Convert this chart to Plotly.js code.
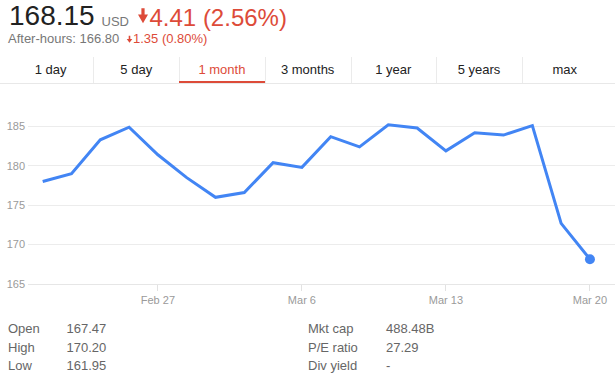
<!DOCTYPE html>
<html>
<head>
<meta charset="utf-8">
<script src="https://cdn.plot.ly/plotly-3.0.1.min.js"></script>
<style>
  html, body { margin: 0; padding: 0; background: #fff; }
  body { width: 615px; height: 380px; position: relative; overflow: hidden;
         font-family: "Liberation Sans", Arial, sans-serif; }
  #chart { position: absolute; left: 0; top: 0; width: 615px; height: 380px; }
  .t { position: absolute; white-space: nowrap; line-height: 1; }
  .tab { position: absolute; text-align: center; font-size: 13px; line-height: 1; color: #222; }
  .sep { position: absolute; width: 1px; background: #ebebeb; }
</style>
</head>
<body>
<div id="chart"></div>
<div id="overlay"></div>
<script>
// ---- data ----
const dates = ['Feb 21','Feb 22','Feb 23','Feb 24','Feb 27','Feb 28','Mar 1','Mar 2','Mar 3',
               'Mar 6','Mar 7','Mar 8','Mar 9','Mar 10','Mar 13','Mar 14','Mar 15','Mar 16','Mar 17','Mar 20'];
const prices = [178.0, 179.0, 183.3, 184.9, 181.4, 178.5, 176.0, 176.6, 180.4,
                179.8, 183.7, 182.4, 185.2, 184.8, 181.9, 184.2, 183.9, 185.1, 172.7, 168.15];
const xTickLabels = ['Feb 27','Mar 6','Mar 13','Mar 20'];
const yTickValues = [165, 170, 175, 180, 185];

const headerPrice = '168.15';
const headerCurrency = 'USD';
const headerChange = '4.41 (2.56%)';
const afterHoursText = 'After-hours: 166.80';
const afterHoursChange = '1.35 (0.80%)';

const tabs = ['1 day','5 day','1 month','3 months','1 year','5 years','max'];
const selectedTab = '1 month';

const statLabelsLeft = ['Open','High','Low'];
const statValuesLeft = ['167.47','170.20','161.95'];
const statLabelsRight = ['Mkt cap','P/E ratio','Div yield'];
const statValuesRight = ['488.48B','27.29','-'];

// ---- chart ----
const lineColor = '#4285f4';
const traces = [
  { x: dates, y: prices, type: 'scatter', mode: 'lines',
    line: { color: lineColor, width: 3 }, hoverinfo: 'skip' },
  { x: [dates[dates.length - 1]], y: [prices[prices.length - 1]], type: 'scatter', mode: 'markers',
    marker: { color: lineColor, size: 10 }, hoverinfo: 'skip' }
];
const layout = {
  width: 615, height: 380,
  margin: { l: 28, r: 0, t: 87, b: 96 },
  paper_bgcolor: 'rgba(0,0,0,0)', plot_bgcolor: 'rgba(0,0,0,0)',
  showlegend: false, hovermode: false,
  font: { family: '"Liberation Sans", Arial, sans-serif', size: 11, color: '#9a9a9a' },
  xaxis: {
    type: 'category', categoryorder: 'array', categoryarray: dates,
    range: [-0.51, 19.87], fixedrange: true,
    tickmode: 'array', tickvals: xTickLabels, ticktext: xTickLabels,
    ticks: 'outside', ticklen: 6, tickwidth: 1, tickcolor: '#e2e2e2',
    showgrid: false, zeroline: false,
    showline: true, linecolor: '#e6e6e6', linewidth: 1,
    tickfont: { size: 11, color: '#9a9a9a' }
  },
  yaxis: {
    range: [165, 190], fixedrange: true,
    tickmode: 'array', tickvals: yTickValues,
    ticks: '', ticklabelstandoff: 2,
    showgrid: true, gridcolor: '#ececec', gridwidth: 1,
    zeroline: false, showline: false,
    tickfont: { size: 11, color: '#9a9a9a' }
  }
};
Plotly.newPlot('chart', traces, layout, { displayModeBar: false, staticPlot: true });

// ---- header / tabs / stats (HTML text) ----
const ov = document.getElementById('overlay');
function addText(txt, left, top, size, color, extra) {
  const d = document.createElement('div');
  d.className = 't';
  d.textContent = txt;
  d.style.left = left + 'px';
  d.style.top = top + 'px';
  d.style.fontSize = size + 'px';
  d.style.color = color;
  if (extra) Object.assign(d.style, extra);
  ov.appendChild(d);
  return d;
}
const red = '#dd4b39';
addText(headerPrice, 9, 2.3, 28, '#222');
addText(headerCurrency, 101.5, 15, 13, '#777');
addText(headerChange, 149.5, 5.7, 24, red);
addText(afterHoursText, 8, 32.3, 13, '#777');
addText(afterHoursChange, 133, 32.3, 13, red);

// arrows
const svgNS = 'http://www.w3.org/2000/svg';
const svg = document.createElementNS(svgNS, 'svg');
svg.setAttribute('width', 615); svg.setAttribute('height', 50);
svg.style.position = 'absolute'; svg.style.left = '0px'; svg.style.top = '0px';
[['M141.4 8.3H144.6V14.6H148L143 23.3L138 14.6H141.4Z'],
 ['M128.7 35.7H130.3V39H132.3L129.5 42.8L126.7 39H128.7Z']].forEach(p => {
  const path = document.createElementNS(svgNS, 'path');
  path.setAttribute('d', p[0]); path.setAttribute('fill', red);
  svg.appendChild(path);
});
ov.appendChild(svg);

// tabs
const tabLeft = 7.7, tabW = 85.7;
tabs.forEach((name, i) => {
  const d = document.createElement('div');
  d.className = 'tab';
  d.textContent = name;
  d.style.left = (tabLeft + i * tabW) + 'px';
  d.style.width = tabW + 'px';
  d.style.top = '62.5px';
  if (name === selectedTab) d.style.color = red;
  ov.appendChild(d);
  if (i > 0) {
    const s = document.createElement('div');
    s.className = 'sep';
    s.style.left = Math.round(tabLeft + i * tabW) + 'px';
    s.style.top = '57px'; s.style.height = '26px';
    ov.appendChild(s);
  }
  if (name === selectedTab) {
    const u = document.createElement('div');
    Object.assign(u.style, { position: 'absolute', left: (tabLeft + i * tabW) + 'px', width: tabW + 'px',
      top: '81px', height: '2.5px', background: red });
    ov.appendChild(u);
  }
});
const base = document.createElement('div');
Object.assign(base.style, { position: 'absolute', left: '0px', width: '615px', top: '83px', height: '1px', background: '#e8e8e8' });
ov.appendChild(base);

// stats
statLabelsLeft.forEach((lab, i) => {
  const top = 322 + i * 18.5;
  addText(lab, 8, top, 13, '#666');
  addText(statValuesLeft[i], 66.5, top, 13, '#666');
  addText(statLabelsRight[i], 308, top, 13, '#666');
  addText(statValuesRight[i], 386, top, 13, '#666');
});
</script>
</body>
</html>
